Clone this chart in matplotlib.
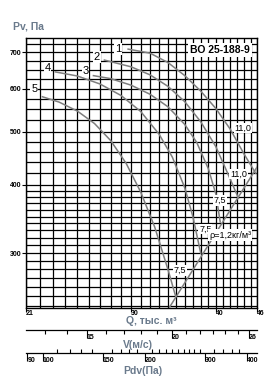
import matplotlib
matplotlib.use('Agg')
import matplotlib.pyplot as plt
from matplotlib.ticker import NullFormatter
import numpy as np

plt.rcParams['font.family'] = ['Liberation Sans', 'DejaVu Sans']

# fan curves, Q in thousand m3/h, Pv in Pa
Q1 = [29.7, 32, 34, 36, 38, 40, 42, 44, 45.8]
PV1 = [709, 697, 670, 634, 594, 552, 506, 456, 420]
Q2 = [27.4, 30, 32, 34, 36, 38, 40, 42, 43.2]
PV2 = [677, 658, 636, 606, 568, 522, 470, 410, 378]
Q3 = [26.4, 28, 30, 32, 34, 36, 37.5, 39, 40, 40.6]
PV3 = [634, 626, 609, 586, 556, 516, 478, 428, 385, 342]
Q4 = [23.2, 25, 27, 29, 31, 33, 34.5, 36, 37, 38]
PV4 = [644, 633, 612, 583, 545, 495, 450, 395, 350, 300]
Q5 = [22.2, 23.5, 25, 26.5, 28, 29.5, 31, 32.5, 34, 34.9]
PV5 = [580, 567, 546, 518, 482, 438, 388, 335, 280, 250]

# boundary line
SYS_Q = [34.2, 46.0]
SYS_PV = [239, 431]

CURVE_NAMES = ['1', '2', '3', '4', '5']
NAME_Q = [28.7, 26.7, 25.7, 22.6, 21.6]
NAME_PV = [709, 686, 647, 655, 600]

POWER_TEXT = ['11,0', '11,0', '7,5', '7,5', '7,5']
POWER_Q = [43.9, 43.2, 40.6, 38.6, 35.4]
POWER_PV = [508, 419, 374, 332, 279]

Q_TICKS = [21, 30, 40, 46]
PV_TICKS = [300, 400, 500, 600, 700]
V_TICKS = [15, 20, 26]
PDV_TICKS = [90, 100, 150, 200, 300, 400]

DUCT_AREA = 0.4784
RHO = 1.2

q_lim = (21, 46)
v_lim = tuple(q * 1000 / 3600 / DUCT_AREA for q in q_lim)
pdv_lim = tuple(RHO * v ** 2 / 2 for v in v_lim)

fig = plt.figure(figsize=(2.77, 3.82), dpi=100)
L, W = 26 / 277, 231 / 277
ax = fig.add_axes([L, 74 / 382, W, 270 / 382])

ax.set_xscale('log')
ax.set_yscale('log')
ax.set_xlim(*q_lim)
ax.set_ylim(238, 743)

curve_color = '#7f7f7f'
for q, pv in [(Q1, PV1), (Q2, PV2), (Q3, PV3), (Q4, PV4), (Q5, PV5)]:
    ax.plot(q, pv, color=curve_color, lw=1.1, zorder=3)
ax.plot(SYS_Q, SYS_PV, color=curve_color, lw=1.1, zorder=3)

box = dict(facecolor='white', edgecolor='none', pad=0.6)
for name, q, pv in zip(CURVE_NAMES, NAME_Q, NAME_PV):
    ax.text(q, pv, name, fontsize=8, ha='center', va='center', bbox=box, zorder=5)
for t, q, pv in zip(POWER_TEXT, POWER_Q, POWER_PV):
    ax.text(q, pv, t, fontsize=6.5, ha='center', va='center', bbox=box, zorder=5)

ax.text(0.84, 0.955, 'ВО 25-188-9', transform=ax.transAxes, fontsize=7.5,
        fontweight='bold', ha='center', va='center',
        bbox=dict(facecolor='white', edgecolor='none', pad=1.5), zorder=5)
ax.text(0.883, 0.27, 'ρ=1,2кг/м³', transform=ax.transAxes, fontsize=6.5,
        ha='center', va='center',
        bbox=dict(facecolor='white', edgecolor='none', pad=1.0), zorder=5)

# grid
ax.set_xticks(Q_TICKS, labels=[str(t) for t in Q_TICKS])
ax.set_xticks(np.arange(22, 46), minor=True)
ax.set_yticks(PV_TICKS, labels=[str(t) for t in PV_TICKS])
y_minor = list(range(240, 400, 10)) + [420, 440, 460, 480] + \
    [525, 550, 575, 625, 650, 675, 725]
ax.set_yticks(y_minor, minor=True)
ax.xaxis.set_minor_formatter(NullFormatter())
ax.yaxis.set_minor_formatter(NullFormatter())
ax.grid(which='both', color='black', lw=0.9)
ax.set_axisbelow(True)
ax.tick_params(which='minor', length=0)
ax.tick_params(axis='x', which='major', direction='out', length=3, width=0.8,
               pad=-1.6, labelsize=5)
ax.tick_params(axis='y', which='major', direction='out', length=3, width=0.8,
               pad=0.5, labelsize=5)
for lbl in ax.get_xticklabels():
    lbl.set_ha('left')
    lbl.set_fontweight('bold')
for lbl in ax.get_yticklabels():
    lbl.set_fontweight('bold')
for s in ax.spines.values():
    s.set_linewidth(1.0)

# velocity and dynamic pressure scales
def scale_axis(ybottom, lim, major, minor, minor_dir):
    a = fig.add_axes([L, ybottom, W, 0.02])
    a.set_facecolor('none')
    for side in ['top', 'left', 'right']:
        a.spines[side].set_visible(False)
    a.spines['bottom'].set_linewidth(0.9)
    a.set_yticks([])
    a.set_xscale('log')
    a.set_xlim(*lim)
    a.set_xticks(major, labels=[str(t) for t in major])
    a.set_xticks(minor, minor=True)
    a.xaxis.set_minor_formatter(NullFormatter())
    a.tick_params(axis='x', which='major', direction='out', length=5.5,
                  width=0.8, pad=-2.8, labelsize=5)
    a.tick_params(axis='x', which='minor', direction=minor_dir, length=2.8,
                  width=0.8)
    for lbl in a.get_xticklabels():
        lbl.set_ha('left')
        lbl.set_fontweight('bold')
    return a

v_minor = [v for v in range(13, 27) if v not in V_TICKS]
scale_axis(52 / 382, v_lim, V_TICKS, v_minor, 'out')
pdv_minor = [p for p in range(110, 300, 10) if p not in PDV_TICKS] + [320, 340, 360, 380]
scale_axis(29 / 382, pdv_lim, PDV_TICKS, pdv_minor, 'in')

label_color = '#6a7a8c'
fig.text(0.103, 0.931, 'Pv, Па', fontsize=7.5, fontweight='bold',
         color=label_color, ha='center', va='center')
fig.text(0.545, 0.159, 'Q, тыс. м³', fontsize=7.5, fontweight='bold',
         color=label_color, ha='center', va='center')
fig.text(0.498, 0.097, 'V(м/с)', fontsize=7.5, fontweight='bold',
         color=label_color, ha='center', va='center')
fig.text(0.516, 0.028, 'Pdv(Па)', fontsize=7.5, fontweight='bold',
         color=label_color, ha='center', va='center')

fig.savefig('out.png', dpi=100)
